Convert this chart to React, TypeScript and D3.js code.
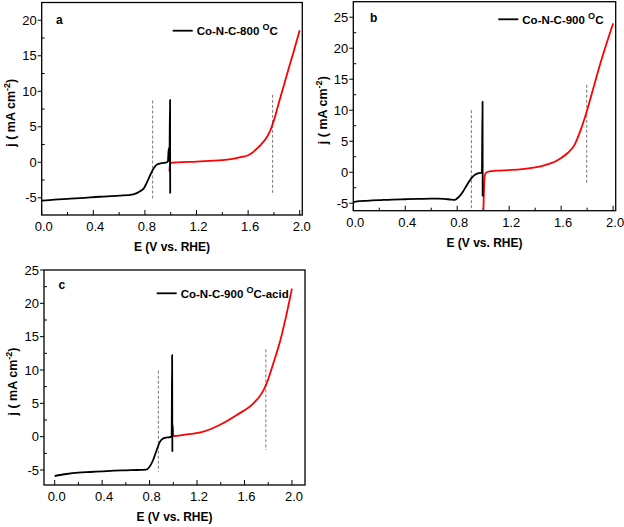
import React, { useEffect, useRef } from 'react';
import * as d3 from 'd3';

// Panel a: Co-N-C-800
const aOrrE = [0, 0.1, 0.2, 0.3, 0.45, 0.6, 0.71, 0.76, 0.79, 0.83, 0.86, 0.894, 0.93, 0.96, 0.978, 0.985, 0.99, 0.995, 0.996];
const aOrrJ = [-5.4, -5.25, -5.15, -5.05, -4.85, -4.7, -4.5, -4.1, -3.7, -2.25, -1.1, -0.3, -0.12, -0.05, 0.1, 2.0, 0.1, 8.8, -4.4];
const aOerE = [0.99, 0.993, 0.997, 1.05, 1.2, 1.3, 1.4, 1.5, 1.55, 1.6, 1.63, 1.66, 1.7, 1.74, 1.77, 1.8, 1.84, 1.9, 1.95, 2.0];
const aOerJ = [-1.3, -0.5, -0.1, 0.0, 0.1, 0.2, 0.3, 0.55, 0.75, 1.0, 1.3, 1.8, 2.5, 3.4, 4.4, 5.9, 8.5, 12.3, 15.4, 18.6];
const aDashE = [0.86, 1.79];
const aDashTop = [8.7, 9.5];
const aDashBottom = [-5.3, -4.6];

// Panel b: Co-N-C-900
const bOrrE = [0, 0.05, 0.1, 0.2, 0.3, 0.4, 0.5, 0.6, 0.65, 0.7, 0.75, 0.78, 0.8, 0.82, 0.845, 0.865, 0.885, 0.9, 0.92, 0.94, 0.96, 0.98, 0.99, 0.995, 0.996];
const bOrrJ = [-4.8, -4.65, -4.6, -4.5, -4.4, -4.35, -4.3, -4.25, -4.25, -4.3, -4.4, -4.45, -4.2, -3.8, -3.1, -2.4, -1.7, -1.2, -0.7, -0.35, -0.17, -0.1, -0.07, 11.4, -3.9];
const bOerE = [1.0, 1.003, 1.007, 1.012, 1.02, 1.05, 1.1, 1.2, 1.3, 1.4, 1.45, 1.5, 1.55, 1.6, 1.65, 1.7, 1.75, 1.8, 1.85, 1.9, 1.95, 2.0];
const bOerJ = [-7.5, -5.0, -2.0, -0.6, -0.1, 0.15, 0.25, 0.35, 0.5, 0.8, 1.0, 1.3, 1.7, 2.3, 3.1, 4.3, 6.8, 10.0, 13.7, 17.4, 20.8, 24.0];
const bDashE = [0.909, 1.797];
const bDashTop = [10.0, 14.1];
const bDashBottom = [-6.1, -2.0];

// Panel c: Co-N-C-900-acid
const cOrrE = [0, 0.1, 0.2, 0.3, 0.4, 0.5, 0.6, 0.7, 0.77, 0.8, 0.83, 0.86, 0.888, 0.916, 0.95, 0.975, 0.986, 0.99, 0.992];
const cOrrJ = [-5.9, -5.6, -5.4, -5.3, -5.2, -5.1, -5.05, -5.0, -4.95, -4.5, -3.5, -2.0, -0.75, -0.25, -0.12, -0.05, 0.0, 12.25, -2.25];
const cOerE = [0.993, 0.997, 1.0, 1.1, 1.253, 1.39, 1.535, 1.675, 1.745, 1.787, 1.843, 1.9, 1.95, 2.0];
const cOerJ = [0.0, 1.6, 0.1, 0.3, 0.75, 1.75, 3.25, 5.0, 6.5, 8.0, 11.0, 14.3, 18.0, 22.2];
const cDashE = [0.874, 1.78];
const cDashTop = [9.9, 13.1];
const cDashBottom = [-5.25, -2.0];

const xTicks = [0, 0.4, 0.8, 1.2, 1.6, 2.0];
const yTicksA = [-5, 0, 5, 10, 15, 20];
const yTicksBC = [-5, 0, 5, 10, 15, 20, 25];

const FONT = "'Liberation Sans', Arial, Helvetica, sans-serif";

type Panel = {
  id: string;
  box: { x0: number; x1: number; y0: number; y1: number };
  xDom: [number, number];
  yDom: [number, number];
  yTicks: number[];
  orrE: number[]; orrJ: number[];
  oerE: number[]; oerJ: number[];
  dashE: number[]; dashTop: number[]; dashBottom: number[];
  letter: string; letterPos: [number, number];
  legendName: string; legendSuffix: string;
  legendPos: [number, number];
  yTitleX: number;
};

const panels: Panel[] = [
  {
    id: 'a', box: { x0: 41.7, x1: 302.3, y0: 2.5, y1: 215 },
    xDom: [0, 2.02], yDom: [-7.42, 22.5], yTicks: yTicksA,
    orrE: aOrrE, orrJ: aOrrJ, oerE: aOerE, oerJ: aOerJ,
    dashE: aDashE, dashTop: aDashTop, dashBottom: aDashBottom,
    letter: 'a', letterPos: [56, 24],
    legendName: 'Co-N-C-800 ', legendSuffix: 'C', legendPos: [172.7, 30.7],
    yTitleX: 11,
  },
  {
    id: 'b', box: { x0: 353.3, x1: 615.7, y0: 1.7, y1: 210.7 },
    xDom: [0, 2.02], yDom: [-6.2, 27.5], yTicks: yTicksBC,
    orrE: bOrrE, orrJ: bOrrJ, oerE: bOerE, oerJ: bOerJ,
    dashE: bDashE, dashTop: bDashTop, dashBottom: bDashBottom,
    letter: 'b', letterPos: [370, 21.5],
    legendName: 'Co-N-C-900 ', legendSuffix: 'C', legendPos: [498.3, 19.3],
    yTitleX: 323,
  },
  {
    id: 'c', box: { x0: 44, x1: 305, y0: 270, y1: 485 },
    xDom: [-0.09, 2.11], yDom: [-7.25, 25], yTicks: yTicksBC,
    orrE: cOrrE, orrJ: cOrrJ, oerE: cOerE, oerJ: cOerJ,
    dashE: cDashE, dashTop: cDashTop, dashBottom: cDashBottom,
    letter: 'c', letterPos: [58.5, 289],
    legendName: 'Co-N-C-900 ', legendSuffix: 'C-acid', legendPos: [156.7, 293.3],
    yTitleX: 13,
  },
];

function drawPanel(svg: d3.Selection<SVGSVGElement, unknown, null, undefined>, p: Panel) {
  const { x0, x1, y0, y1 } = p.box;
  const x = d3.scaleLinear().domain(p.xDom).range([x0, x1]);
  const y = d3.scaleLinear().domain(p.yDom).range([y1, y0]);
  const g = svg.append('g');

  svg.append('defs').append('clipPath').attr('id', `clip-${p.id}`)
    .append('rect').attr('x', x0).attr('y', y0).attr('width', x1 - x0).attr('height', y1 - y0);

  // x ticks (inside), minor at 0.2 steps
  d3.range(0.2, 2.0, 0.4).forEach(v => {
    g.append('line').attr('x1', x(v)).attr('x2', x(v)).attr('y1', y1).attr('y2', y1 - 3)
      .attr('stroke', '#000').attr('stroke-width', 1);
  });
  xTicks.forEach(v => {
    g.append('line').attr('x1', x(v)).attr('x2', x(v)).attr('y1', y1).attr('y2', y1 - 5)
      .attr('stroke', '#000').attr('stroke-width', 1);
    g.append('text').attr('x', x(v) + 2).attr('y', y1 + 16)
      .attr('text-anchor', 'middle').attr('font-family', FONT).attr('font-size', 13)
      .text(v.toFixed(1));
  });
  // y ticks: minor inside, major outside
  d3.range(-7.5, 30, 5).filter(v => v > p.yDom[0] && v < p.yDom[1]).forEach(v => {
    g.append('line').attr('x1', x0).attr('x2', x0 + 3).attr('y1', y(v)).attr('y2', y(v))
      .attr('stroke', '#000').attr('stroke-width', 1);
  });
  p.yTicks.forEach(v => {
    g.append('line').attr('x1', x0 - 4).attr('x2', x0).attr('y1', y(v)).attr('y2', y(v))
      .attr('stroke', '#000').attr('stroke-width', 1);
    g.append('text').attr('x', x0 - 5).attr('y', y(v) + 4.5)
      .attr('text-anchor', 'end').attr('font-family', FONT).attr('font-size', 13)
      .text(String(v));
  });

  // dashed markers
  p.dashE.forEach((e, i) => {
    g.append('line').attr('x1', x(e)).attr('x2', x(e))
      .attr('y1', y(p.dashTop[i])).attr('y2', y(p.dashBottom[i]))
      .attr('stroke', '#777').attr('stroke-width', 1).attr('stroke-dasharray', '3,2');
  });

  const line = d3.line<[number, number]>()
    .x(d => x(d[0])).y(d => y(d[1]))
    .curve(d3.curveMonotoneX);
  const orr = p.orrE.map((e, i) => [e, p.orrJ[i]] as [number, number]);
  const oer = p.oerE.map((e, i) => [e, p.oerJ[i]] as [number, number]);
  const curves = g.append('g').attr('clip-path', `url(#clip-${p.id})`);
  curves.append('path').datum(oer).attr('d', line).attr('fill', 'none')
    .attr('stroke', '#ff0000').attr('stroke-width', 1.8).attr('stroke-linejoin', 'round');
  curves.append('path').datum(orr).attr('d', line).attr('fill', 'none')
    .attr('stroke', '#000').attr('stroke-width', 1.8).attr('stroke-linejoin', 'round');

  // frame
  g.append('rect').attr('x', x0).attr('y', y0).attr('width', x1 - x0).attr('height', y1 - y0)
    .attr('fill', 'none').attr('stroke', '#000').attr('stroke-width', 1.3);

  // panel letter
  g.append('text').attr('x', p.letterPos[0]).attr('y', p.letterPos[1])
    .attr('font-family', FONT).attr('font-weight', 'bold').attr('font-size', 12).text(p.letter);

  // legend
  const [lx, ly] = p.legendPos;
  g.append('line').attr('x1', lx).attr('x2', lx + 20).attr('y1', ly).attr('y2', ly)
    .attr('stroke', '#000').attr('stroke-width', 1.8);
  const lt = g.append('text').attr('x', lx + 24).attr('y', ly + 4.2)
    .attr('font-family', FONT).attr('font-weight', 'bold').attr('font-size', 11.5);
  lt.append('tspan').text(p.legendName);
  lt.append('tspan').attr('dy', -5).attr('font-size', 9).text('O');
  lt.append('tspan').attr('dy', 5).text(p.legendSuffix);

  // axis titles
  g.append('text').attr('x', (x0 + x1) / 2).attr('y', y1 + 36)
    .attr('text-anchor', 'middle').attr('font-family', FONT).attr('font-weight', 'bold')
    .attr('font-size', 12).text('E (V vs. RHE)');
  const yt = g.append('text')
    .attr('transform', `translate(${p.yTitleX + 4},${(y0 + y1) / 2 + 4}) rotate(-90)`)
    .attr('text-anchor', 'middle').attr('font-family', FONT).attr('font-weight', 'bold')
    .attr('font-size', 12.5);
  yt.append('tspan').text('j ( mA cm');
  yt.append('tspan').attr('dy', -5).attr('font-size', 9).text('-2');
  yt.append('tspan').attr('dy', 5).text(')');
}

export default function App() {
  const svgRef = useRef<SVGSVGElement>(null);

  useEffect(() => {
    if (!svgRef.current) return;
    const svg = d3.select(svgRef.current);
    svg.selectAll('*').remove();
    panels.forEach(p => drawPanel(svg, p));
  }, []);

  return (
    <>
      <style>{'body{margin:0;background:#fff}'}</style>
      <svg ref={svgRef} width={624} height={527} style={{ display: 'block', background: '#fff' }} />
    </>
  );
}
